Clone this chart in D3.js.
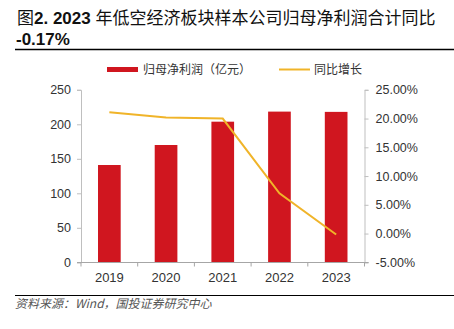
<!DOCTYPE html>
<html><head><meta charset="utf-8">
<script src="https://cdn.jsdelivr.net/npm/d3@7"></script>
<style>
html,body{margin:0;padding:0;background:#fff;}
svg{display:block;font-family:"Liberation Sans",Arial,"Noto Sans CJK SC",sans-serif;}
</style></head>
<body><svg id="c" width="454" height="329"></svg>
<script>
const years = ["2019","2020","2021","2022","2023"];
const profit = [141.0, 170.0, 203.8, 218.4, 218.0];
const growth = [21.1, 20.2, 20.0, 7.0, -0.17];
const leftTicks = [0,50,100,150,200,250];
const rightTicks = [-5,0,5,10,15,20,25];
const seriesNames = ["归母净利润（亿元）","同比增长"];
const titleLine1 = ["图","2. 2023 ","年低空经济板块样本公司归母净利润合计同比"];
const titleLine2 = "-0.17%";
const sourceText = "资料来源：Wind，国投证券研究中心";

const svg = d3.select("#c");
const RED = "#D0161F", ORANGE = "#F0B429", AX = "#BFBFBF";
const CJK = "'Noto Sans CJK SC',sans-serif";

// title
const t1 = svg.append("text").attr("x",17).attr("y",24).attr("font-size",17).attr("fill","#111");
t1.append("tspan").attr("font-family",CJK).attr("font-weight","normal").text(titleLine1[0]);
t1.append("tspan").attr("font-weight","bold").text(titleLine1[1]);
t1.append("tspan").attr("font-family",CJK).attr("font-weight","normal").text(titleLine1[2]);
svg.append("text").attr("x",16).attr("y",45).attr("font-size",17).attr("font-weight","bold").attr("fill","#111").text(titleLine2);
svg.append("line").attr("x1",15).attr("x2",454).attr("y1",49.5).attr("y2",49.5).attr("stroke","#000").attr("stroke-width",1.5);
svg.append("line").attr("x1",15).attr("x2",454).attr("y1",295.5).attr("y2",295.5).attr("stroke","#000").attr("stroke-width",1.2);
svg.append("text").attr("x",15).attr("y",307.5).attr("font-size",12).attr("font-style","italic")
  .attr("font-family",CJK).attr("fill","#555").text(sourceText);

// scales
const x = d3.scaleBand().domain(years).range([81,364.5]).paddingInner(0.6).paddingOuter(0.3);
const xb = d3.scaleBand().domain(years).range([81,364.5]);
const yL = d3.scaleLinear().domain([0,250]).range([262.3,89.8]);
const yR = d3.scaleLinear().domain([-5,25]).range([262.3,89.8]);

// legend
svg.append("rect").attr("x",107).attr("y",67).attr("width",31).attr("height",5).attr("fill",RED);
svg.append("text").attr("x",143).attr("y",74).attr("font-size",12).attr("font-family",CJK).attr("fill","#333").text(seriesNames[0]);
svg.append("line").attr("x1",279).attr("x2",310).attr("y1",69.5).attr("y2",69.5).attr("stroke",ORANGE).attr("stroke-width",2);
svg.append("text").attr("x",314).attr("y",74).attr("font-size",12).attr("font-family",CJK).attr("fill","#333").text(seriesNames[1]);

// bars
svg.append("g").selectAll("rect").data(profit).join("rect")
  .attr("x",(d,i)=>x(years[i])).attr("width",x.bandwidth())
  .attr("y",d=>yL(d)).attr("height",d=>yL(0)-yL(d)).attr("fill",RED);

// axes
const gl = svg.append("g").attr("transform","translate(81,0)")
  .call(d3.axisLeft(yL).tickValues(leftTicks).tickSize(4).tickPadding(6));
gl.selectAll("path,line").attr("stroke",AX);
gl.selectAll("text").attr("font-size",12.5).attr("fill","#333").attr("font-family","'Liberation Sans',Arial,sans-serif");

const gr = svg.append("g").attr("transform","translate(364.5,0)")
  .call(d3.axisRight(yR).tickValues(rightTicks).tickSize(4).tickPadding(7).tickFormat(d=>d.toFixed(2)+"%"));
gr.selectAll("path,line").attr("stroke",AX);
gr.selectAll("text").attr("font-size",12.5).attr("fill","#333").attr("font-family","'Liberation Sans',Arial,sans-serif");

const gb = svg.append("g").attr("transform","translate(0,262.3)")
  .call(d3.axisBottom(xb).tickSize(0).tickPadding(10));
gb.select("path").remove();
gb.selectAll("text").attr("font-size",13).attr("fill","#333").attr("font-family","'Liberation Sans',Arial,sans-serif");
svg.append("line").attr("x1",77).attr("x2",368.5).attr("y1",262.5).attr("y2",262.5).attr("stroke","#A6A6A6");
svg.append("g").selectAll("line").data(years.concat(["end"])).join("line")
  .attr("x1",(d,i)=>i<years.length?xb(d):xb.range()[1]).attr("x2",(d,i)=>i<years.length?xb(d):xb.range()[1])
  .attr("y1",262.5).attr("y2",266.5).attr("stroke","#A6A6A6");

// line
const line = d3.line().x((d,i)=>xb(years[i])+xb.bandwidth()/2).y(d=>yR(d));
svg.append("path").datum(growth).attr("d",line).attr("fill","none").attr("stroke",ORANGE).attr("stroke-width",2);
</script></body></html>
